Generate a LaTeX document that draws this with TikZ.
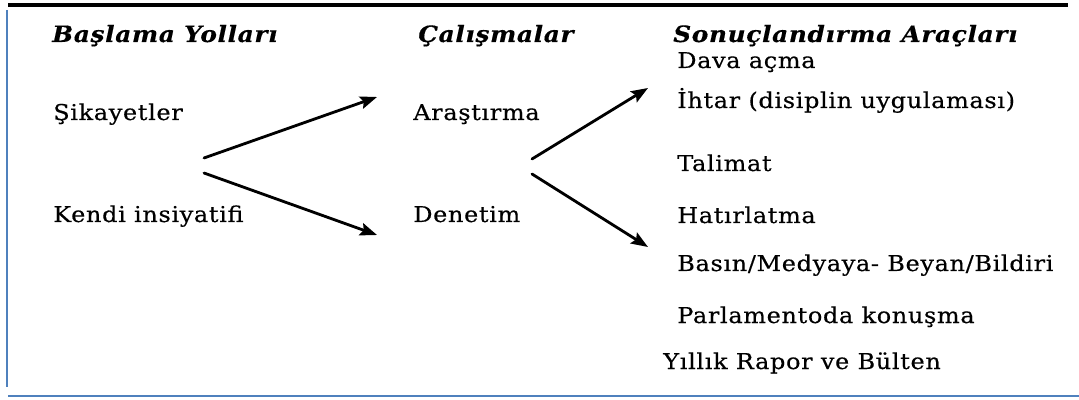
\documentclass[tikz,border=0pt]{standalone}
\usepackage{fontspec}
\setmainfont{DejaVu Serif}[FakeStretch=1.1,LetterSpace=3,FakeBold=0.4]
\usetikzlibrary{arrows.meta}
\definecolor{frameblue}{RGB}{79,129,189}

\begin{document}
\begin{tikzpicture}[x=0.025cm,y=-0.025cm,>={Stealth[length=12pt,width=9pt,inset=2pt]},
  baslik/.style={anchor=base west,inner sep=0pt,font=\fontsize{16}{18}\selectfont\bfseries\itshape},
  madde/.style={anchor=base west,inner sep=0pt,font=\fontsize{15.5}{18}\selectfont},
  ok/.style={->,line width=2pt,line cap=round}]
 \useasboundingbox (0,0) rectangle (1079,400);
 \draw[line width=3pt] (8,5)--(1068,5);
 \draw[frameblue,line width=2pt] (7,10)--(7,387);
 \draw[frameblue,line width=2pt] (8,396)--(1079,396);
 % basliklar
 \node[baslik] (h1) at (52,42) {Başlama Yolları};
 \node[baslik] (h2) at (418,42) {Çalışmalar};
 \node[baslik] (h3) at (673,42) {Sonuçlandırma Araçları};
 % sol ve orta sutun
 \node[madde] (sikayet) at (53,120) {Şikayetler};
 \node[madde] (kendi) at (53,222) {Kendi insiyatifi};
 \node[madde] (arastirma) at (413,120) {Araştırma};
 \node[madde] (denetim) at (413,222) {Denetim};
 % sag sutun
 \node[madde] (dava) at (677,68) {Dava açma};
 \node[madde] (ihtar) at (677,108) {İhtar (disiplin uygulaması)};
 \node[madde] (talimat) at (677,171) {Talimat};
 \node[madde] (hatir) at (677,223) {Hatırlatma};
 \node[madde] (basin) at (677,271) {Basın/Medyaya- Beyan/Bildiri};
 \node[madde] (parl) at (677,323) {Parlamentoda konuşma};
 \node[madde] (rapor) at (663,369) {Yıllık Rapor ve Bülten};
 % oklar
 \coordinate (kol1u) at (204,158);
 \coordinate (kol1a) at (204,173);
 \coordinate (uc1u) at (377,97);
 \coordinate (uc1a) at (377,235);
 \coordinate (kol2u) at (532,159);
 \coordinate (kol2a) at (532,174);
 \coordinate (uc2u) at (648,88);
 \coordinate (uc2a) at (648,247);
 \draw[ok] (kol1u) -- (uc1u);
 \draw[ok] (kol1a) -- (uc1a);
 \draw[ok] (kol2u) -- (uc2u);
 \draw[ok] (kol2a) -- (uc2a);
\end{tikzpicture}
\end{document}
